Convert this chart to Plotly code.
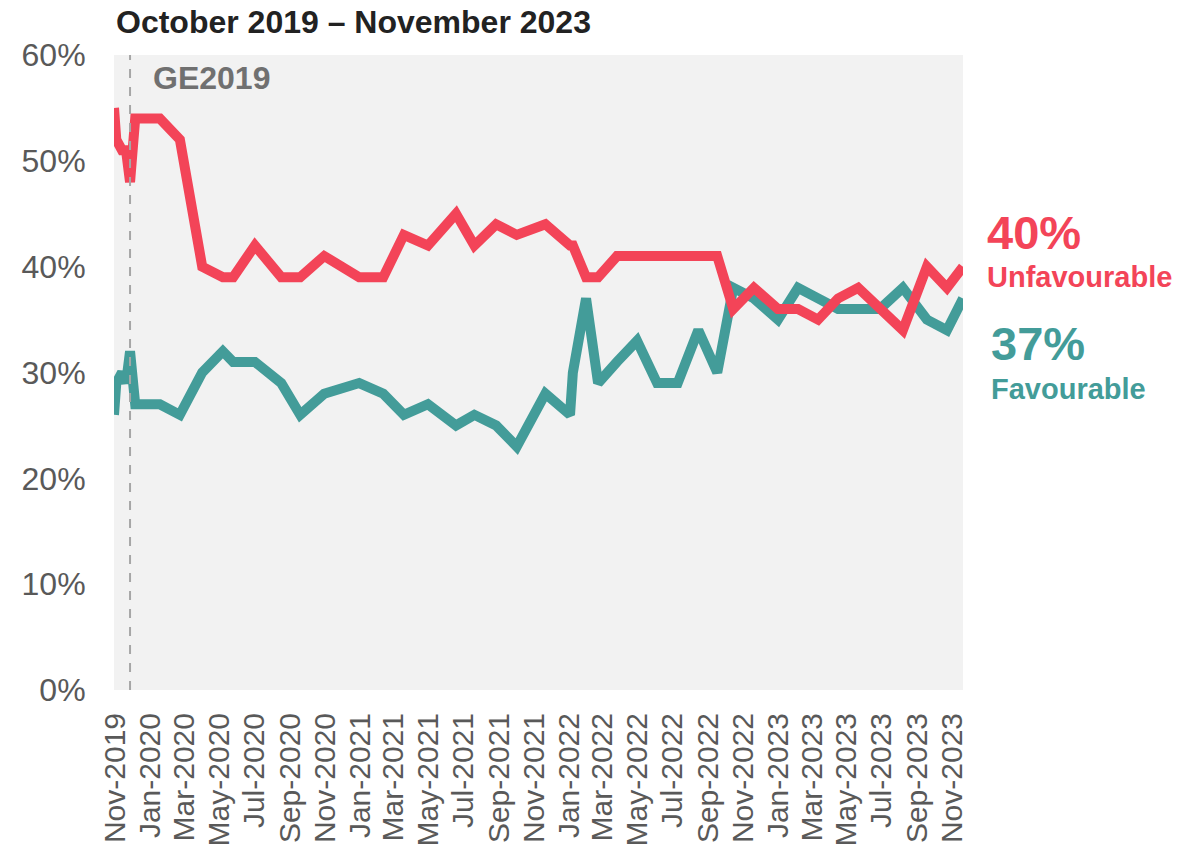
import plotly.graph_objects as go

# Survey dates (Oct 2019 - Nov 2023)
dates = [
    "2019-10-30", "2019-11-03", "2019-11-13", "2019-11-20", "2019-11-27", "2019-12-06",
    "2020-01-18", "2020-02-22", "2020-04-01", "2020-05-07", "2020-05-25", "2020-07-02",
    "2020-08-17", "2020-09-19", "2020-10-31", "2020-12-31", "2021-02-11", "2021-03-19",
    "2021-04-30", "2021-06-18", "2021-07-20", "2021-08-27", "2021-10-02", "2021-11-21",
    "2022-01-03", "2022-01-08", "2022-01-31", "2022-02-21", "2022-03-26", "2022-04-30",
    "2022-06-04", "2022-07-10", "2022-08-15", "2022-09-17", "2022-10-15", "2022-11-20",
    "2023-01-01", "2023-02-05", "2023-03-12", "2023-04-16", "2023-05-21", "2023-06-28",
    "2023-08-07", "2023-09-18", "2023-10-23", "2023-11-20",
]

unfavourable = [
    55, 52, 51, 51, 48, 54,
    54, 52, 40, 39, 39, 42,
    39, 39, 41, 39, 39, 43,
    42, 45, 42, 44, 43, 44,
    42, 42, 39, 39, 41, 41,
    41, 41, 41, 41, 36, 38,
    36, 36, 35, 37, 38, 36,
    34, 40, 38, 40,
]

favourable = [
    26, 29, 30, 29, 32, 27,
    27, 26, 30, 32, 31, 31,
    29, 26, 28, 29, 28, 26,
    27, 25, 26, 25, 23, 28,
    26, 30, 37, 29, 31, 33,
    29, 29, 34, 30, 38, 37,
    35, 38, 37, 36, 36, 36,
    38, 35, 34, 37,
]

ge_date = "2019-11-27"
title_text = "October 2019 \u2013 November 2023"

RED = "#F34458"
TEAL = "#439C99"
FONT = "Liberation Sans, Arial, sans-serif"

# page body has an 8px margin, so the figure is a bit smaller than the window
W, H = 1193, 843

fig = go.Figure()

fig.add_trace(go.Scatter(x=dates, y=favourable, mode="lines", name="Favourable",
                         line=dict(color=TEAL, width=10)))
fig.add_trace(go.Scatter(x=dates, y=unfavourable, mode="lines", name="Unfavourable",
                         line=dict(color=RED, width=10)))

# GE2019 marker line
fig.add_shape(type="line", xref="x", yref="paper", x0=ge_date, x1=ge_date, y0=0, y1=1,
              line=dict(color="#A6A6A6", width=2, dash="dash"), layer="above")

fig.add_annotation(xref="paper", yref="paper", x=0.044, y=0.964, text="<b>GE2019</b>",
                   showarrow=False, xanchor="left", yanchor="middle",
                   font=dict(family=FONT, size=32, color="#707070"))

# chart title, sitting just above the plot area
fig.add_annotation(xref="paper", yref="paper", x=0.0, y=1.052, text=f"<b>{title_text}</b>",
                   showarrow=False, xanchor="left", yanchor="middle",
                   font=dict(family=FONT, size=32, color="#222222"))

# end labels
fig.add_annotation(xref="paper", yref="paper", x=1.026, y=0.721,
                   text=f"<b>{unfavourable[-1]}%</b>", showarrow=False,
                   xanchor="left", yanchor="middle", font=dict(family=FONT, size=47, color=RED))
fig.add_annotation(xref="paper", yref="paper", x=1.026, y=0.650, text="<b>Unfavourable</b>",
                   showarrow=False, xanchor="left", yanchor="middle",
                   font=dict(family=FONT, size=29, color=RED))
fig.add_annotation(xref="paper", yref="paper", x=1.031, y=0.545,
                   text=f"<b>{favourable[-1]}%</b>", showarrow=False,
                   xanchor="left", yanchor="middle", font=dict(family=FONT, size=47, color=TEAL))
fig.add_annotation(xref="paper", yref="paper", x=1.031, y=0.474, text="<b>Favourable</b>",
                   showarrow=False, xanchor="left", yanchor="middle",
                   font=dict(family=FONT, size=29, color=TEAL))

fig.update_layout(
    width=W, height=H,
    margin=dict(l=106, r=238, t=47, b=161),
    paper_bgcolor="white",
    plot_bgcolor="#F2F2F2",
    showlegend=False,
    font=dict(family=FONT, size=32, color="#595959"),
)

fig.update_xaxes(
    type="date", range=["2019-10-30", "2023-11-20"],
    tick0="2019-11-01", dtick="M2", tickformat="%b-%Y", tickangle=-90,
    ticks="outside", ticklen=10, tickcolor="rgba(0,0,0,0)",
    showgrid=False, zeroline=False, showline=False, automargin=False,
    tickfont=dict(family=FONT, size=30, color="#595959"),
)
fig.update_yaxes(
    range=[0, 60], dtick=10, ticksuffix="%",
    ticks="outside", ticklen=21, tickcolor="rgba(0,0,0,0)",
    showgrid=False, zeroline=False, showline=False, automargin=False,
    tickfont=dict(family=FONT, size=32, color="#595959"),
)

fig.write_html("out.html")
